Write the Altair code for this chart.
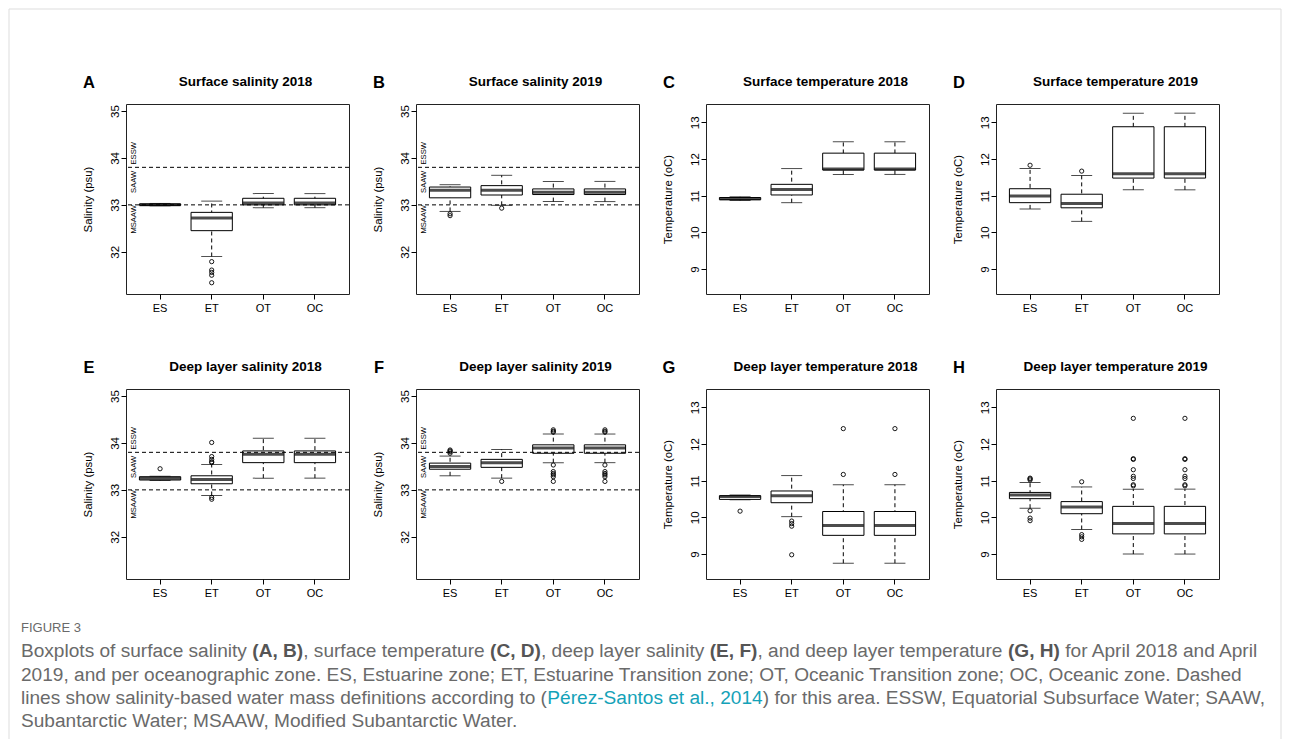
import altair as alt
import pandas as pd

zones = ["ES", "ET", "OT", "OC"]

# ---------------- data: boxplot statistics ----------------
# A: Surface salinity 2018
a_lo  = [32.98, 31.90, 32.94, 32.94]
a_q1  = [32.99, 32.45, 33.00, 33.00]
a_med = [33.00, 32.72, 33.04, 33.04]
a_q3  = [33.02, 32.84, 33.14, 33.14]
a_hi  = [33.03, 33.08, 33.24, 33.24]
a_out_zone = ["ET", "ET", "ET", "ET", "ET"]
a_out_val  = [31.79, 31.61, 31.56, 31.50, 31.34]

# B: Surface salinity 2019
b_lo  = [32.86, 32.99, 33.07, 33.07]
b_q1  = [33.15, 33.21, 33.22, 33.22]
b_med = [33.31, 33.31, 33.27, 33.27]
b_q3  = [33.38, 33.41, 33.34, 33.34]
b_hi  = [33.43, 33.63, 33.50, 33.50]
b_out_zone = ["ES", "ES", "ET"]
b_out_val  = [32.81, 32.77, 32.93]

# C: Surface temperature 2018
c_lo  = [10.87, 10.81, 11.58, 11.58]
c_q1  = [10.89, 11.02, 11.70, 11.70]
c_med = [10.92, 11.17, 11.73, 11.73]
c_q3  = [10.95, 11.31, 12.16, 12.16]
c_hi  = [10.97, 11.74, 12.47, 12.47]
c_out_zone = []
c_out_val  = []

# D: Surface temperature 2019
d_lo  = [10.64, 10.30, 11.16, 11.16]
d_q1  = [10.81, 10.67, 11.48, 11.48]
d_med = [10.99, 10.79, 11.60, 11.60]
d_q3  = [11.19, 11.04, 12.88, 12.88]
d_hi  = [11.74, 11.55, 13.25, 13.25]
d_out_zone = ["ES", "ET"]
d_out_val  = [11.83, 11.67]

# E: Deep layer salinity 2018
e_lo  = [33.20, 32.88, 33.25, 33.25]
e_q1  = [33.21, 33.13, 33.58, 33.58]
e_med = [33.25, 33.22, 33.76, 33.76]
e_q3  = [33.28, 33.30, 33.83, 33.83]
e_hi  = [33.29, 33.54, 34.10, 34.10]
e_out_zone = ["ES", "ET", "ET", "ET", "ET", "ET", "ET", "ET"]
e_out_val  = [33.45, 34.01, 33.71, 33.65, 33.60, 33.58, 32.84, 32.80]

# F: Deep layer salinity 2019
f_lo  = [33.30, 33.25, 33.58, 33.58]
f_q1  = [33.44, 33.48, 33.78, 33.78]
f_med = [33.50, 33.58, 33.89, 33.89]
f_q3  = [33.57, 33.65, 33.96, 33.96]
f_hi  = [33.72, 33.86, 34.19, 34.19]
f_out_zone = ["ES", "ES", "ES", "ES", "ET",
              "OT", "OT", "OT", "OT", "OT", "OT", "OT", "OT", "OT",
              "OC", "OC", "OC", "OC", "OC", "OC", "OC", "OC", "OC"]
f_out_val  = [33.78, 33.81, 33.83, 33.85, 33.18,
              34.23, 34.25, 34.28, 33.53, 33.39, 33.35, 33.32, 33.28, 33.18,
              34.23, 34.25, 34.28, 33.53, 33.39, 33.35, 33.32, 33.28, 33.18]

# G: Deep layer temperature 2018
g_lo  = [10.48, 10.02, 8.75, 8.75]
g_q1  = [10.49, 10.40, 9.51, 9.51]
g_med = [10.57, 10.59, 9.78, 9.78]
g_q3  = [10.59, 10.72, 10.16, 10.16]
g_hi  = [10.61, 11.14, 10.89, 10.89]
g_out_zone = ["ES", "ET", "ET", "ET", "ET", "OT", "OT", "OC", "OC"]
g_out_val  = [10.17, 9.90, 9.83, 9.76, 8.98, 11.17, 12.42, 11.17, 12.42]

# H: Deep layer temperature 2019
h_lo  = [10.25, 9.67, 9.00, 9.00]
h_q1  = [10.51, 10.10, 9.55, 9.55]
h_med = [10.61, 10.28, 9.83, 9.83]
h_q3  = [10.68, 10.43, 10.30, 10.30]
h_hi  = [10.95, 10.83, 10.77, 10.77]
h_out_zone = ["ES", "ES", "ES", "ES", "ES", "ES", "ET", "ET", "ET", "ET",
              "OT", "OT", "OT", "OT", "OT", "OT", "OT", "OT",
              "OC", "OC", "OC", "OC", "OC", "OC", "OC", "OC"]
h_out_val  = [11.02, 11.05, 11.07, 10.18, 9.98, 9.91, 10.97, 9.53, 9.47, 9.40,
              10.86, 10.89, 11.06, 11.12, 11.30, 11.58, 11.60, 12.70,
              10.86, 10.89, 11.06, 11.12, 11.30, 11.58, 11.60, 12.70]

# water-mass thresholds (salinity) and their labels
wm_thresholds = [33.0, 33.8]
wm_labels = ["ESSW", "SAAW", "MSAAW"]
wm_label_pos = [34.10, 33.49, 32.69]

sal_ticks = [32, 33, 34, 35]
temp_ticks = [9, 10, 11, 12, 13]

panel_letters = ["A", "B", "C", "D", "E", "F", "G", "H"]
panel_titles = ["Surface salinity 2018", "Surface salinity 2019",
                "Surface temperature 2018", "Surface temperature 2019",
                "Deep layer salinity 2018", "Deep layer salinity 2019",
                "Deep layer temperature 2018", "Deep layer temperature 2019"]
panel_kind = ["sal", "sal", "temp", "temp", "sal", "sal", "temp", "temp"]

# caption text
cap_head = "FIGURE 3"
cap_seg_text = [
    "Boxplots of surface salinity ", "(A, B)", ", surface temperature ", "(C, D)",
    ", deep layer salinity ", "(E, F)", ", and deep layer temperature ", "(G, H)",
    " for April 2018 and April",
    "2019, and per oceanographic zone. ES, Estuarine zone; ET, Estuarine Transition zone; OT, Oceanic Transition zone; OC, Oceanic zone. Dashed",
    "lines show salinity-based water mass definitions according to (", "Pérez-Santos et al., 2014",
    ") for this area. ESSW, Equatorial Subsurface Water; SAAW,",
    "Subantarctic Water; MSAAW, Modified Subantarctic Water.",
]
cap_seg_style = ["n", "b", "n", "b", "n", "b", "n", "b", "n", "n", "n", "l", "n", "n"]
cap_seg_line = [0, 0, 0, 0, 0, 0, 0, 0, 0, 1, 2, 2, 2, 3]

# ---------------- layout (pixels) ----------------
PW, PH = 223, 190
CAP_OX, CAP_OY = 125, 103 + 2 * PH + 2 * 95  # caption cell origin on the page
CAP_LEFT = 20
cap_line_y = [650, 674, 697, 720]
LINE2_W = 1228

FONT = "Liberation Sans"
SAL_DOMAIN = [31.1, 35.15]
TEMP_DOMAIN = [8.32, 13.5]

# Arial / Liberation Sans advance widths (1/1000 em) for caption layout
_W = {' ': 278, ',': 278, '.': 278, ';': 278, '(': 333, ')': 333, '-': 333,
      '0': 556, '1': 556, '2': 556, '3': 556, '4': 556, '5': 556, '6': 556, '7': 556,
      '8': 556, '9': 556,
      'A': 667, 'B': 667, 'C': 722, 'D': 722, 'E': 667, 'F': 611, 'G': 778, 'H': 722,
      'I': 278, 'M': 833, 'O': 778, 'P': 667, 'S': 667, 'T': 611, 'W': 944,
      'a': 556, 'b': 556, 'c': 500, 'd': 556, 'e': 556, 'f': 278, 'g': 556, 'h': 556,
      'i': 222, 'j': 222, 'k': 500, 'l': 222, 'm': 833, 'n': 556, 'o': 556, 'p': 556,
      'q': 556, 'r': 333, 's': 500, 't': 278, 'u': 556, 'v': 500, 'w': 722, 'x': 500,
      'y': 500, 'z': 500, 'é': 556}
_WB = {' ': 278, ',': 278, '(': 333, ')': 333, 'A': 722, 'B': 722, 'C': 722, 'D': 722,
       'E': 667, 'F': 611, 'G': 778, 'H': 722}


def em_width(s, bold=False):
    tab = _WB if bold else _W
    return sum(tab.get(ch, 556) for ch in s) / 1000.0


line_em = {}
for t, st, ln in zip(cap_seg_text, cap_seg_style, cap_seg_line):
    line_em[ln] = line_em.get(ln, 0) + em_width(t, st == "b")
CAP_SIZE = min(LINE2_W / line_em[1], 1250 / line_em[0])

# SVG drops leading spaces, so shift such segments right by the space width instead
cap_draw_text, cap_seg_x = [], []
_cur = {}
for t, st, ln in zip(cap_seg_text, cap_seg_style, cap_seg_line):
    x0 = _cur.get(ln, CAP_LEFT)
    stripped = t.lstrip(" ")
    lead = len(t) - len(stripped)
    cap_draw_text.append(stripped)
    cap_seg_x.append(x0 + em_width(" " * lead, st == "b") * CAP_SIZE)
    _cur[ln] = x0 + em_width(t, st == "b") * CAP_SIZE


def make_panel(i, lo, q1, med, q3, hi, out_zone, out_val):
    kind = panel_kind[i]
    stats = pd.DataFrame({"zone": zones, "lo": lo, "q1": q1, "med": med, "q3": q3, "hi": hi})
    outs = pd.DataFrame({"zone": out_zone, "value": out_val})
    if kind == "sal":
        dom, vals, ytitle = SAL_DOMAIN, sal_ticks, "Salinity (psu)"
    else:
        dom, vals, ytitle = TEMP_DOMAIN, temp_ticks, "Temperature (oC)"
    ys = alt.Scale(domain=dom, nice=False, zero=False)
    yaxis = alt.Axis(values=vals, labelAngle=270, labelAlign="center",
                     labelBaseline="alphabetic", labelPadding=3, labelFontSize=11.5,
                     tickSize=5, grid=False, domain=False,
                     titleX=-38, titleY=PH / 2, titleAngle=270, titleAlign="center",
                     titleBaseline="middle", titleFontWeight="normal", titleFontSize=11.4)
    xs = alt.Scale(domain=zones, paddingInner=0.2, paddingOuter=0.26)
    xaxis = alt.Axis(title=None, labelAngle=0, labelFontSize=11, tickSize=5,
                     labelPadding=3, grid=False, domain=False, bandPosition=0.5)

    def X():
        return alt.X("zone:N", scale=xs, axis=xaxis, title=None)

    def Y(f):
        return alt.Y(f, type="quantitative", scale=ys, axis=yaxis, title=ytitle)

    base = alt.Chart(stats)
    whisk = base.mark_rule(color="black", strokeWidth=1, strokeDash=[4, 3]).encode(
        x=X(), y=Y("lo"), y2="hi:Q")
    cap_lo = base.mark_tick(color="black", size=21, thickness=1, orient="horizontal").encode(
        x=X(), y=Y("lo"))
    cap_hi = base.mark_tick(color="black", size=21, thickness=1, orient="horizontal").encode(
        x=X(), y=Y("hi"))
    box = base.mark_bar(fill="white", stroke="black", strokeWidth=1).encode(
        x=X(), y=Y("q1"), y2="q3:Q")
    median = base.mark_tick(color="black", size=41, thickness=3, orient="horizontal").encode(
        x=X(), y=Y("med"))
    layers = [whisk, cap_lo, cap_hi, box, median]
    if len(out_val) > 0:
        layers.append(alt.Chart(outs).mark_point(shape="circle", filled=False, color="black",
                                                 size=18, strokeWidth=0.9, opacity=1).encode(
            x=X(), y=Y("value")))
    if kind == "sal":
        thr = alt.Chart(pd.DataFrame({"v": wm_thresholds})).mark_rule(
            color="black", strokeWidth=1, strokeDash=[4, 3]).encode(y=Y("v"))
        lab = alt.Chart(pd.DataFrame({"label": wm_labels, "pos": wm_label_pos})).mark_text(
            angle=270, fontSize=7.6, font=FONT, align="center", baseline="middle",
            color="black").encode(x=alt.value(8), y=Y("pos"), text="label:N")
        layers += [thr, lab]
    ttl = alt.Chart(pd.DataFrame({"t": [panel_titles[i]]})).mark_text(
        font=FONT, fontSize=13.5, fontWeight="bold", align="center", baseline="alphabetic",
        color="black").encode(x=alt.value(PW / 2 + 8), y=alt.value(-18), text="t:N")
    let = alt.Chart(pd.DataFrame({"t": [panel_letters[i]]})).mark_text(
        font=FONT, fontSize=16.5, fontWeight="bold", align="center", baseline="alphabetic",
        color="black").encode(x=alt.value(-37), y=alt.value(-16), text="t:N")
    layers += [ttl, let]
    return alt.layer(*layers).properties(
        width=PW, height=PH,
        view=alt.ViewBackground(stroke="#222222", strokeWidth=1, strokeOpacity=1))


panels = [
    make_panel(0, a_lo, a_q1, a_med, a_q3, a_hi, a_out_zone, a_out_val),
    make_panel(1, b_lo, b_q1, b_med, b_q3, b_hi, b_out_zone, b_out_val),
    make_panel(2, c_lo, c_q1, c_med, c_q3, c_hi, c_out_zone, c_out_val),
    make_panel(3, d_lo, d_q1, d_med, d_q3, d_hi, d_out_zone, d_out_val),
    make_panel(4, e_lo, e_q1, e_med, e_q3, e_hi, e_out_zone, e_out_val),
    make_panel(5, f_lo, f_q1, f_med, f_q3, f_hi, f_out_zone, f_out_val),
    make_panel(6, g_lo, g_q1, g_med, g_q3, g_hi, g_out_zone, g_out_val),
    make_panel(7, h_lo, h_q1, h_med, h_q3, h_hi, h_out_zone, h_out_val),
]

# ---------------- caption cell ----------------
segs = pd.DataFrame({
    "t": cap_draw_text,
    "style": cap_seg_style,
    "px": [x - CAP_OX for x in cap_seg_x],
    "py": [cap_line_y[l] - CAP_OY for l in cap_seg_line],
})
cap_layers = []
for style, weight, color in [("n", "normal", "#6a6a6a"), ("b", "bold", "#555555"),
                             ("l", "normal", "#14a2b8")]:
    sub = segs[segs["style"] == style]
    cap_layers.append(alt.Chart(sub).mark_text(
        font=FONT, fontSize=CAP_SIZE, fontWeight=weight, align="left", baseline="middle",
        color=color).encode(
        x=alt.X("px:Q", scale=None, axis=None), y=alt.Y("py:Q", scale=None, axis=None),
        text="t:N"))
head = alt.Chart(pd.DataFrame({"t": [cap_head]})).mark_text(
    font=FONT, fontSize=13, align="left", baseline="middle",
    color="#6a6a6a").encode(x=alt.value(CAP_LEFT - CAP_OX), y=alt.value(627 - CAP_OY), text="t:N")
one = pd.DataFrame({"k": [0]})
BL, BR, BT, BB = 8, 1280, 8, 738
border_top = alt.Chart(one).mark_rule(color="#dddddd", strokeWidth=1).encode(
    x=alt.value(BL - CAP_OX), x2=alt.value(BR - CAP_OX), y=alt.value(BT - CAP_OY))
border_left = alt.Chart(one).mark_rule(color="#dddddd", strokeWidth=1).encode(
    x=alt.value(BL - CAP_OX), y=alt.value(BT - CAP_OY), y2=alt.value(BB - CAP_OY))
border_right = alt.Chart(one).mark_rule(color="#dddddd", strokeWidth=1).encode(
    x=alt.value(BR - CAP_OX), y=alt.value(BT - CAP_OY), y2=alt.value(BB - CAP_OY))
caption = alt.layer(border_top, border_left, border_right, head, *cap_layers).properties(
    width=PW, height=40, view=alt.ViewBackground(strokeOpacity=0))

chart = alt.concat(*panels, caption, columns=4, spacing={"row": 95, "column": 67},
                   bounds="flush").properties(padding=0, background="white").configure_view(
    strokeOpacity=0).configure_axis(
    labelFont=FONT, titleFont=FONT, labelColor="black", tickColor="black", titleColor="black")

chart.save("out.html", embed_options={"renderer": "svg", "actions": False})
